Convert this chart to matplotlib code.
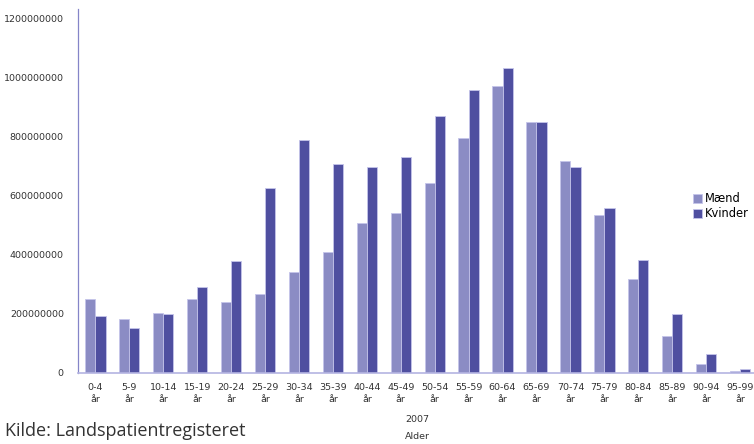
"""
Søjlediagram: fordeling pr. aldersgruppe for mænd og kvinder, 2007
"""

import matplotlib.pyplot as plt
import numpy as np

# ============================================================
# Data
# ============================================================

aldersgrupper = ['0-4', '5-9', '10-14', '15-19', '20-24', '25-29', '30-34',
                 '35-39', '40-44', '45-49', '50-54', '55-59', '60-64', '65-69',
                 '70-74', '75-79', '80-84', '85-89', '90-94', '95-99']

maend = [251e6, 183e6, 203e6, 251e6, 241e6, 268e6, 342e6, 410e6, 508e6, 542e6,
         644e6, 797e6, 973e6, 851e6, 719e6, 536e6, 319e6, 125e6, 31e6, 7e6]

kvinder = [193e6, 153e6, 200e6, 292e6, 380e6, 627e6, 790e6, 708e6, 698e6, 732e6,
           871e6, 959e6, 1034e6, 851e6, 698e6, 559e6, 383e6, 200e6, 64e6, 14e6]

y_ticks = [0, 200000000, 400000000, 600000000, 800000000, 1000000000, 1200000000]

# ============================================================
# Stil
# ============================================================

farve_maend = '#8b8cc4'
farve_kvinder = '#4f4fa0'
kant = '#c4c4ea'
akse_farve = '#8585c8'

fig = plt.figure(figsize=(7.54, 4.44), dpi=100)
ax = fig.add_axes([0.104, 0.16, 0.9, 0.82])

x = np.arange(len(aldersgrupper))
width = 0.3

ax.bar(x - width/2, maend, width, label='Mænd', color=farve_maend,
       edgecolor=kant, linewidth=0.6)
ax.bar(x + width/2, kvinder, width, label='Kvinder', color=farve_kvinder,
       edgecolor=kant, linewidth=0.6)

ax.set_xlim(-0.5, len(aldersgrupper) - 0.5)
ax.set_ylim(0, 1.234e9)

ax.set_yticks(y_ticks)
ax.set_yticklabels([str(v) for v in y_ticks], fontsize=6.8, color='#333333')
ax.set_xticks(x)
ax.set_xticklabels([f'{a}\når' for a in aldersgrupper], fontsize=6.8,
                   color='#333333', linespacing=1.45)
ax.tick_params(axis='y', length=0, pad=10.5)
ax.tick_params(axis='x', length=0, pad=7)

for side in ['top', 'right']:
    ax.spines[side].set_visible(False)
ax.spines['left'].set_color(akse_farve)
ax.spines['left'].set_linewidth(0.9)
ax.spines['bottom'].set_color('#b4b4e2')
ax.spines['bottom'].set_linewidth(1.2)

ax.set_xlabel('2007\nAlder', fontsize=6.8, color='#333333', linespacing=2.1,
              labelpad=8)

ax.legend(loc='upper left', bbox_to_anchor=(0.906, 0.496), frameon=False,
          fontsize=8.3, handlelength=0.8, handleheight=0.8, handletextpad=0.25,
          labelspacing=0.15, borderaxespad=0, borderpad=0)

fig.text(0.006, 0.018, 'Kilde: Landspatientregisteret', fontsize=13,
         family='Open Sans', color='#333333')

plt.savefig('out.png', dpi=100)
plt.close()
